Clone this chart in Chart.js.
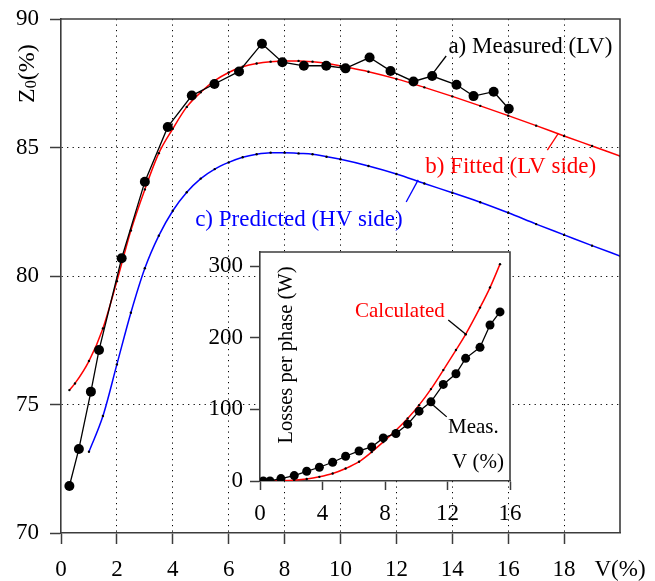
<!DOCTYPE html>
<html>
<head>
<meta charset="utf-8">
<title>Z0 vs V</title>
<script src="https://cdn.jsdelivr.net/npm/chart.js@4.4.1/dist/chart.umd.min.js"></script>
<style>
  body { margin: 0; background: #fff; }
  #wrap { position: relative; width: 655px; height: 581px; }
  #main { position: absolute; left: 0; top: 0; }
  #inset { position: absolute; left: 200px; top: 240px; }
</style>
</head>
<body>
<div id="wrap">
  <canvas id="main" width="655" height="581"></canvas>
  <canvas id="inset" width="330" height="290"></canvas>
</div>
<script>
// ---- main panel: Z0 (%) against V (%) ----
const measV = [0.3, 0.64, 1.07, 1.36, 2.17, 3.0, 3.82, 4.68, 5.49, 6.37, 7.19, 7.92, 8.69, 9.49, 10.18, 11.04, 11.79, 12.61, 13.28, 14.15, 14.76, 15.48, 16.02];
const measZ = [71.83, 73.27, 75.5, 77.12, 80.69, 83.67, 85.8, 87.02, 87.47, 87.96, 89.04, 88.32, 88.18, 88.18, 88.08, 88.5, 87.98, 87.57, 87.78, 87.44, 87.0, 87.17, 86.51];

const fitV = [0.3, 0.5, 1, 1.5, 2, 2.5, 3, 3.5, 4, 4.5, 5, 5.5, 6, 6.5, 7, 7.5, 8, 8.5, 9, 9.5, 10, 11, 12, 13, 14, 15, 16, 17, 18, 19, 20];
const fitZ = [75.56, 75.82, 76.69, 77.96, 79.8, 81.77, 83.37, 84.78, 85.73, 86.58, 87.15, 87.6, 87.92, 88.14, 88.27, 88.34, 88.37, 88.37, 88.34, 88.28, 88.17, 87.95, 87.67, 87.34, 86.99, 86.62, 86.24, 85.85, 85.45, 85.06, 84.67];

const predV = [1, 1.5, 2, 2.5, 3, 3.5, 4, 4.5, 5, 5.5, 6, 6.5, 7, 7.5, 8, 8.5, 9, 9.5, 10, 11, 12, 13, 14, 15, 16, 17, 18, 19, 20];
const predZ = [73.16, 74.55, 76.56, 78.57, 80.3, 81.57, 82.54, 83.26, 83.79, 84.16, 84.42, 84.62, 84.74, 84.8, 84.8, 84.77, 84.74, 84.64, 84.54, 84.28, 83.97, 83.6, 83.24, 82.87, 82.46, 82.02, 81.6, 81.18, 80.78];

const xTickValues = [0, 2, 4, 6, 8, 10, 12, 14, 16, 18, 20];
const xTickLabels = ['0', '2', '4', '6', '8', '10', '12', '14', '16', '18', 'V(%)'];
const yTickValues = [70, 75, 80, 85, 90];

// ---- inset: losses per phase (W) against V (%) ----
const lossV = [0.21, 0.64, 1.34, 2.19, 2.99, 3.8, 4.65, 5.48, 6.34, 7.15, 7.89, 8.7, 9.45, 10.18, 10.94, 11.73, 12.54, 13.16, 14.08, 14.72, 15.36];
const lossMeas = [0, 0, 3.4, 7.6, 13.6, 19.2, 26.2, 34.6, 42, 47.6, 60.2, 66.4, 79.4, 97.6, 110.6, 135, 149.9, 171.4, 186.8, 218, 236.3];
const lossCalc = [0, 0.05, 0.35, 1.2, 2.8, 5.8, 10.4, 17.4, 27, 40.6, 54.6, 71, 87.4, 106, 128.4, 155, 183, 205, 242.3, 270.3, 303];
const insetXTicks = [0, 4, 8, 12, 16];
const insetYTicks = [0, 100, 200, 300];

const serif = "'Liberation Serif', 'Times New Roman', serif";
const axisColor = '#3c3c3c';

const pts = (xs, ys) => xs.map((v, i) => ({ x: v, y: ys[i] }));

// fixed axis thickness; label overflow is left to layout.padding
const fixX = h => s => { s.height = h; s.paddingLeft = 0; s.paddingRight = 0; };
const fixY = w => s => { s.width = w; s.paddingTop = 0; s.paddingBottom = 0; };

// text labels with optional leader lines, placed in data units
const textNotes = {
  id: 'textNotes',
  afterDatasetsDraw(chart, args, opts) {
    const { ctx, scales: { x, y } } = chart;
    ctx.save();
    (opts.items || []).forEach(n => {
      if (n.lead) {
        ctx.strokeStyle = n.leadColor || n.color;
        ctx.lineWidth = 1.3;
        ctx.beginPath();
        ctx.moveTo(x.getPixelForValue(n.lead[0]), y.getPixelForValue(n.lead[1]));
        ctx.lineTo(x.getPixelForValue(n.lead[2]), y.getPixelForValue(n.lead[3]));
        ctx.stroke();
      }
      ctx.font = n.size + 'px ' + serif;
      ctx.fillStyle = n.color;
      ctx.textAlign = 'left';
      ctx.textBaseline = 'alphabetic';
      ctx.fillText(n.text, x.getPixelForValue(n.at[0]), y.getPixelForValue(n.at[1]));
    });
    ctx.restore();
  }
};

// top and right edges of the plot box
const boxFrame = {
  id: 'boxFrame',
  beforeDraw(chart, args, opts) {
    if (!opts.fill) return;
    const a = chart.chartArea;
    chart.ctx.save();
    chart.ctx.fillStyle = opts.fill;
    chart.ctx.fillRect(a.left, a.top, a.right - a.left, a.bottom - a.top);
    chart.ctx.restore();
  },
  afterDraw(chart) {
    const { ctx, chartArea: a } = chart;
    ctx.save();
    ctx.strokeStyle = axisColor;
    ctx.lineWidth = 1.6;
    ctx.beginPath();
    ctx.moveTo(a.left, a.top);
    ctx.lineTo(a.right, a.top);
    ctx.lineTo(a.right, a.bottom);
    ctx.stroke();
    ctx.restore();
  }
};

// rotated axis titles
const sideTitle = {
  id: 'sideTitle',
  afterDraw(chart, args, opts) {
    const { ctx, chartArea: a } = chart;
    ctx.save();
    ctx.fillStyle = '#000';
    ctx.textBaseline = 'alphabetic';
    if (opts.kind === 'z0') {
      ctx.translate(a.left - 27, a.top + 84);
      ctx.rotate(-Math.PI / 2);
      ctx.textAlign = 'left';
      ctx.font = '24px ' + serif;
      ctx.fillText('Z', 0, 0);
      let w = ctx.measureText('Z').width;
      ctx.font = '16px ' + serif;
      ctx.fillText('0', w, 2);
      w += ctx.measureText('0').width;
      ctx.font = '24px ' + serif;
      ctx.fillText('(%)', w, 0);
    } else {
      ctx.translate(a.left + 31.5, a.top + 103);
      ctx.rotate(-Math.PI / 2);
      ctx.textAlign = 'center';
      ctx.font = '20.5px ' + serif;
      ctx.fillText('Losses per phase (W)', 0, 0);
    }
    ctx.restore();
  }
};

const tickFont = { family: serif, size: 23 };

new Chart(document.getElementById('main'), {
  type: 'line',
  data: {
    datasets: [
      {
        label: 'a) Measured (LV)',
        data: pts(measV, measZ),
        borderColor: '#000',
        borderWidth: 1.3,
        pointRadius: 5,
        pointBackgroundColor: '#000',
        pointBorderWidth: 0,
        tension: 0
      },
      {
        label: 'b) Fitted (LV side)',
        data: pts(fitV, fitZ),
        borderColor: '#ff0000',
        borderWidth: 1.5,
        pointRadius: 1.2,
        pointBackgroundColor: '#000',
        pointBorderWidth: 0,
        cubicInterpolationMode: 'monotone'
      },
      {
        label: 'c) Predicted (HV side)',
        data: pts(predV, predZ),
        borderColor: '#0000ff',
        borderWidth: 1.5,
        pointRadius: 1.2,
        pointBackgroundColor: '#000',
        pointBorderWidth: 0,
        cubicInterpolationMode: 'monotone'
      }
    ]
  },
  options: {
    responsive: false,
    animation: false,
    devicePixelRatio: 1,
    events: [],
    layout: { padding: { top: 19, right: 35, left: 0, bottom: 0 } },
    plugins: {
      legend: { display: false },
      tooltip: { enabled: false },
      textNotes: {
        items: [
          { text: 'a) Measured (LV)', color: '#000', size: 23, at: [13.86, 88.68], lead: [13.78, 88.56, 13.32, 87.9] },
          { text: 'b) Fitted (LV side)', color: '#ff0000', size: 23, at: [13.03, 84.01], lead: [17.4, 84.9, 17.8, 85.56] },
          { text: 'c) Predicted (HV side)', color: '#0000ff', size: 23, at: [4.8, 81.95], lead: [12.35, 82.88, 12.78, 83.74] }
        ]
      },
      sideTitle: { kind: 'z0' },
      boxFrame: {}
    },
    scales: {
      x: {
        type: 'linear',
        min: 0,
        max: 20,
        afterBuildTicks: s => { s.ticks = xTickValues.map(v => ({ value: v })); },
        afterFit: fixX(48),
        ticks: {
          color: '#000',
          font: tickFont,
          padding: 12,
          maxRotation: 0,
          autoSkip: false,
          callback: (v, i) => xTickLabels[i]
        },
        grid: {
          color: c => (c.tick && (c.tick.value === 0 || c.tick.value === 20)) ? 'rgba(0,0,0,0)' : '#000',
          lineWidth: 1,
          tickLength: 11,
          tickWidth: 1.5,
          tickColor: c => (c.tick && c.tick.value === 20) ? 'rgba(0,0,0,0)' : axisColor
        },
        border: { color: axisColor, width: 1.6, dash: [1.2, 4.3] }
      },
      y: {
        min: 70,
        max: 90,
        afterBuildTicks: s => { s.ticks = yTickValues.map(v => ({ value: v })); },
        afterFit: fixY(61),
        ticks: { color: '#000', font: tickFont, padding: 11 },
        grid: {
          color: c => (c.tick && (c.tick.value === 70 || c.tick.value === 90)) ? 'rgba(0,0,0,0)' : '#000',
          lineWidth: 1,
          tickLength: 11,
          tickWidth: 1.5,
          tickColor: axisColor
        },
        border: { color: axisColor, width: 1.6, dash: [1.2, 4.3] }
      }
    }
  },
  plugins: [textNotes, boxFrame, sideTitle]
});

new Chart(document.getElementById('inset'), {
  type: 'line',
  data: {
    datasets: [
      {
        label: 'Meas.',
        data: pts(lossV, lossMeas),
        borderColor: '#000',
        borderWidth: 1.3,
        pointRadius: 4.5,
        pointBackgroundColor: '#000',
        pointBorderWidth: 0,
        tension: 0
      },
      {
        label: 'Calculated',
        data: pts(lossV, lossCalc),
        borderColor: '#ff0000',
        borderWidth: 1.5,
        pointRadius: 1.2,
        pointBackgroundColor: '#000',
        pointBorderWidth: 0,
        cubicInterpolationMode: 'monotone'
      }
    ]
  },
  options: {
    responsive: false,
    animation: false,
    devicePixelRatio: 1,
    events: [],
    layout: { padding: { top: 12, right: 20, left: 0, bottom: 0 } },
    plugins: {
      legend: { display: false },
      tooltip: { enabled: false },
      textNotes: {
        items: [
          { text: 'Calculated', color: '#ff0000', size: 21, at: [6.08, 229], lead: [12.05, 225, 13.23, 204], leadColor: '#000' },
          { text: 'Meas.', color: '#000', size: 21, at: [12.03, 66.8], lead: [11.09, 106, 11.95, 89.6] },
          { text: 'V (%)', color: '#000', size: 21, at: [12.29, 18.2] }
        ]
      },
      sideTitle: { kind: 'losses' },
      boxFrame: { fill: '#fff' }
    },
    scales: {
      x: {
        type: 'linear',
        min: 0,
        max: 16,
        afterBuildTicks: s => { s.ticks = insetXTicks.map(v => ({ value: v })); },
        afterFit: fixX(49),
        ticks: { color: '#000', font: tickFont, padding: 10, maxRotation: 0, autoSkip: false },
        grid: { drawOnChartArea: false, tickLength: 9, tickWidth: 1.5, tickColor: axisColor },
        border: { color: axisColor, width: 1.6 }
      },
      y: {
        min: 0,
        max: 320,
        afterBuildTicks: s => { s.ticks = insetYTicks.map(v => ({ value: v })); },
        afterFit: fixY(60),
        ticks: { color: '#000', font: tickFont, padding: 7 },
        grid: { drawOnChartArea: false, tickLength: 10, tickWidth: 1.5, tickColor: axisColor },
        border: { color: axisColor, width: 1.6 }
      }
    }
  },
  plugins: [textNotes, boxFrame, sideTitle]
});
</script>
</body>
</html>
